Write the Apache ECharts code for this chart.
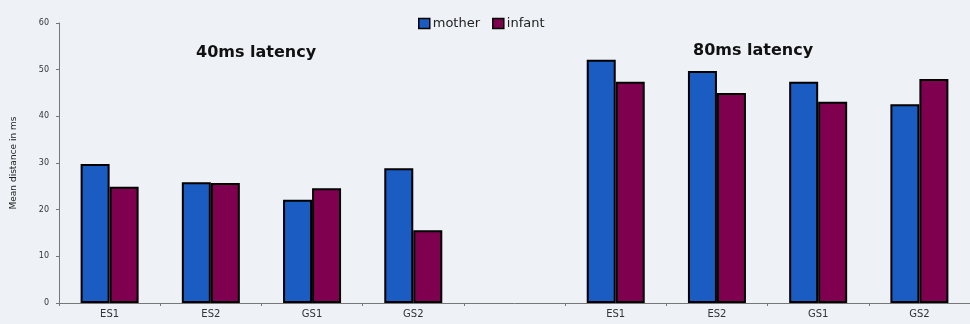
<!DOCTYPE html>
<html>
<head>
<meta charset="utf-8">
<script src="https://cdn.jsdelivr.net/npm/echarts@6/dist/echarts.min.js"></script>
<style>
html,body{margin:0;padding:0;background:#eef1f6;}
#chart{width:970px;height:324px;}
</style>
</head>
<body>
<div id="chart"></div>
<script>
const categories = ['ES1','ES2','GS1','GS2','','ES1','ES2','GS1','GS2'];
const mother = [29.8, 25.9, 22.1, 28.9, null, 52.1, 49.7, 47.4, 42.6];
const infant = [24.9, 25.7, 24.6, 15.6, null, 47.4, 45.0, 43.1, 48.0];
const yTicks = [0, 10, 20, 30, 40, 50, 60];
const groupTitles = ['40ms latency', '80ms latency'];

const wide = 'DejaVu Sans, Verdana, sans-serif';
const chart = echarts.init(document.getElementById('chart'), null, {renderer:'canvas'});
chart.setOption({
  backgroundColor: '#eef1f6',
  animation: false,
  textStyle: { fontFamily: wide },
  title: [
    { text: groupTitles[0], left: 191, top: 40,
      textStyle: { fontSize: 16, fontWeight: 'bold', color: '#111', fontFamily: wide } },
    { text: groupTitles[1], left: 688, top: 38,
      textStyle: { fontSize: 16, fontWeight: 'bold', color: '#111', fontFamily: wide } }
  ],
  legend: {
    data: ['mother', 'infant'],
    left: 413, top: 12,
    itemWidth: 11, itemHeight: 10, itemGap: 12,
    icon: 'rect',
    itemStyle: { borderColor: '#000', borderWidth: 1.5 },
    textStyle: { fontSize: 13, color: '#222', fontFamily: wide, padding: [0,0,0,-2] }
  },
  grid: { left: 59, top: 23, width: 915, bottom: 21, containLabel: false },
  xAxis: {
    type: 'category',
    data: categories,
    axisLine: { lineStyle: { color: '#777', width: 1 } },
    axisTick: { show: true, alignWithLabel: false, length: 3, lineStyle: { color: '#777' } },
    axisLabel: { fontSize: 10, color: '#333', margin: 6, fontFamily: wide }
  },
  yAxis: {
    type: 'value',
    min: yTicks[0], max: yTicks[yTicks.length-1], interval: 10,
    name: 'Mean distance in ms',
    nameLocation: 'middle',
    nameGap: 41,
    nameTextStyle: { fontSize: 9, color: '#222', fontFamily: wide },
    axisLine: { show: true, lineStyle: { color: '#777' } },
    axisTick: { show: true, length: 3, lineStyle: { color: '#777' } },
    axisLabel: { fontSize: 8, color: '#333', margin: 10, fontFamily: wide },
    splitLine: { show: false }
  },
  series: [
    { name: 'mother', type: 'bar', data: mother, barWidth: 29, barGap: '0%',
      itemStyle: { color: '#1a5cc2', borderColor: '#000', borderWidth: 2 } },
    { name: 'infant', type: 'bar', data: infant, barWidth: 29, barGap: '0%',
      itemStyle: { color: '#800050', borderColor: '#000', borderWidth: 2 } }
  ]
});
</script>
</body>
</html>
